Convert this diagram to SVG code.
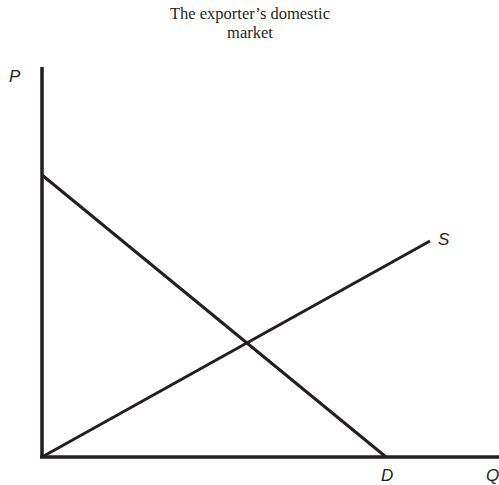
<svg xmlns="http://www.w3.org/2000/svg" width="499" height="485" viewBox="0 0 499 485">
<style>
.ax{stroke:#231f20;stroke-width:3.5;fill:none;stroke-linecap:butt}
.ln{stroke:#231f20;stroke-width:3;fill:none}
.lb{font-family:"Liberation Sans",Arial,sans-serif;font-size:17px;font-style:italic;fill:#231f20}
.tt{font-family:"Liberation Serif","Times New Roman",serif;font-size:16.5px;fill:#231f20;text-anchor:middle}
</style>
<rect width="499" height="485" fill="#fff"/>
<g id="title">
<text class="tt" x="250" y="19">The exporter’s domestic</text>
<text class="tt" x="250" y="38">market</text>
</g>
<g id="axes">
<line class="ax" x1="42" y1="67" x2="42" y2="458"/>
<line class="ax" x1="40" y1="457" x2="499" y2="457"/>
<text class="lb" x="9" y="82">P</text>
<text class="lb" x="486" y="481">Q</text>
</g>
<g id="connectors">
<line id="demand" class="ln" x1="42" y1="175" x2="386" y2="457"/>
<line id="supply" class="ln" x1="42" y1="457" x2="430" y2="241"/>
</g>
<g id="labels">
<text class="lb" x="438" y="245">S</text>
<text class="lb" x="381" y="481">D</text>
</g>
</svg>
